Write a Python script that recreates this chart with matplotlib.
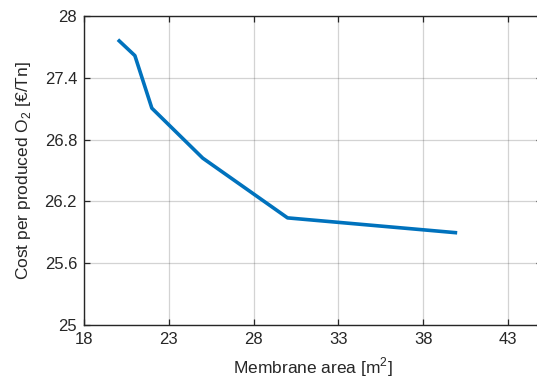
import matplotlib
matplotlib.use("Agg")
import matplotlib.pyplot as plt

plt.rcParams['font.family'] = ['Liberation Sans', 'DejaVu Sans']

# membrane area [m2] vs cost per produced O2 [EUR/Tn]
area = [20, 21, 22, 25, 30, 40]
cost = [27.77, 27.615, 27.105, 26.62, 26.04, 25.895]

xticks = [18, 23, 28, 33, 38, 43]
yticks = [25, 25.6, 26.2, 26.8, 27.4, 28]

fig = plt.figure(figsize=(5.37, 3.82), dpi=100)
ax = fig.add_axes([0.1564, 0.1492, 0.8529, 0.809])

ax.plot(area, cost, color=(0, 0.447, 0.741), lw=2.6, solid_capstyle='butt')

ax.set_xlim(18, 45)
ax.set_ylim(25, 28)
ax.set_xticks(xticks)
ax.set_yticks(yticks)
ax.set_yticklabels([f"{v:g}" for v in yticks])
ax.grid(True, color=(0.15, 0.15, 0.15), alpha=0.2, lw=0.9)
ax.set_axisbelow(True)

ax.tick_params(direction='in', top=True, right=True, length=4.5, width=0.9,
               colors=(0.15, 0.15, 0.15), labelsize=12, pad=5)
for s in ax.spines.values():
    s.set_color((0.15, 0.15, 0.15))
    s.set_linewidth(1.0)

ax.set_xlabel(r"Membrane area [m$^\mathregular{2}$]", fontsize=12.5,
              color=(0.15, 0.15, 0.15), labelpad=6)
ax.set_ylabel(r"Cost per produced O$_\mathregular{2}$ [€/Tn]", fontsize=12.5,
              color=(0.15, 0.15, 0.15), labelpad=8)

fig.savefig("out.png", dpi=100)
